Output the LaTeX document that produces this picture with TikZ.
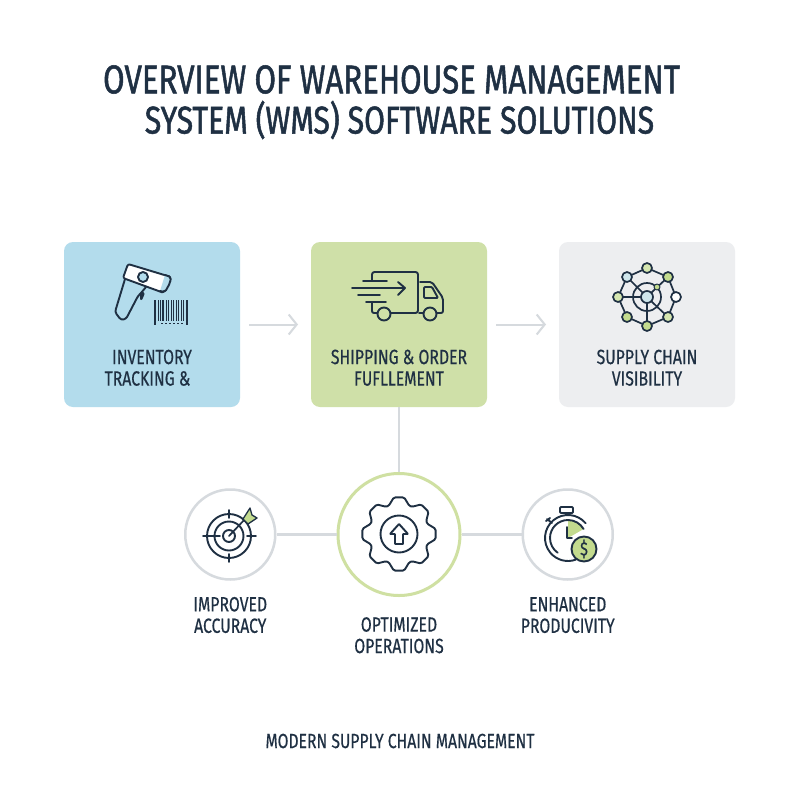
\documentclass[tikz,border=0pt]{standalone}
\usepackage{fontspec}
\setmainfont[FakeStretch=0.77,FakeBold=0.5]{Fira Sans}
\newfontfamily\titlefont[FakeStretch=0.78,FakeBold=1.3]{Fira Sans}
\usetikzlibrary{arrows.meta,positioning,calc}
\definecolor{ink}{HTML}{1F3043}
\definecolor{cardblue}{HTML}{B3DCEC}
\definecolor{cardgreen}{HTML}{CFE0A8}
\definecolor{cardgray}{HTML}{EDEEF0}
\definecolor{linegray}{HTML}{D6DADE}
\definecolor{ringgreen}{HTML}{CFE0A2}
\definecolor{iconblue}{HTML}{CFE6EC}
\definecolor{icongreen}{HTML}{C3DB8E}

\begin{document}
\begin{tikzpicture}[x=1pt, y=-1pt, node distance = 71pt,
                    card/.style = {rounded corners=9pt, minimum width=176pt, minimum height=165pt, inner sep=0pt, outer sep=0pt},
                    ringsmall/.style = {circle, draw=linegray, line width=2.5pt, fill=white, minimum size=90pt, inner sep=0pt, outer sep=1.25pt},
                    ringbig/.style = {circle, draw=ringgreen, line width=3pt, fill=white, minimum size=122pt, inner sep=0pt, outer sep=1.5pt},
                    label/.style = {align=center, text=ink, inner sep=0pt, font=\fontsize{20.5}{21.5}\selectfont},
                    heading/.style = {text=ink, inner sep=0pt, font=\titlefont\fontsize{40}{42}\selectfont},
                    link/.style = {draw=linegray, line width=2.5pt},
                    flow/.style = {draw=linegray, line width=2pt, -{Straight Barb[length=8pt,width=20pt,line width=2pt]}},
                    icon/.style = {draw=ink, line width=1.9pt, line join=round, line cap=round},
                    netnode/.style = {icon, line width=1.7pt}]
\useasboundingbox (0,0) rectangle (800,800);
\fill[white] (0,0) rectangle (800,800);

\node[heading] (title) at (391.5,79.5) {OVERVIEW OF WAREHOUSE MANAGEMENT};
\node[heading, font=\titlefont\fontsize{38.7}{41}\selectfont] (subtitle) at (399.5,120) {SYSTEM (WMS) SOFTWARE SOLUTIONS};

% top row
\node[card, fill=cardblue] (inventory) at (152,324.5) {};
\node[card, fill=cardgreen, right= of inventory] (shipping) {};
\node[card, fill=cardgray, right=72pt of shipping] (visibility) {};
\node[label, above=21pt of inventory.south] (inventorytext) {INVENTORY\\TRACKING \&\hspace*{9pt}};
\node[label, above=21pt of shipping.south] (shippingtext) {SHIPPING \& ORDER\\FUFLLEMENT};
\node[label, above=21pt of visibility.south] (visibilitytext) {SUPPLY CHAIN\\VISIBILITY};

% bottom row
\node[ringbig, below=65pt of shipping] (optimized) {};
\node[ringsmall, left=60pt of optimized] (accuracy) {};
\node[ringsmall, right=60pt of optimized] (productivity) {};
\node[label, below=16pt of accuracy] (accuracytext) {IMPROVED\\ACCURACY};
\node[label, below=20pt of optimized] (optimizedtext) {OPTIMIZED\\OPERATIONS};
\node[label, below=16pt of productivity] (productivitytext) {ENHANCED\\PRODUCIVITY};
\node[text=ink, inner sep=0pt, font=\fontsize{20.4}{22}\selectfont] (footer) at (400,741) {MODERN SUPPLY CHAIN MANAGEMENT};

% connectors
\coordinate[right=9pt of inventory] (a1);
\coordinate[left=13pt of shipping] (a2);
\coordinate[right=9pt of shipping] (b1);
\coordinate[left=13pt of visibility] (b2);
\draw[flow] (a1) -- (a2);
\draw[flow] (b1) -- (b2);
\path[link] (shipping) -- (optimized);
\path[link] (accuracy) -- (optimized);
\path[link] (optimized) -- (productivity);

% scanner
\draw[icon, rounded corners=2.5pt] (125,279) -- (115,312) -- (121,320) -- (126,319) -- (138,296) -- (141,293) -- (146,287);
\draw[icon, rounded corners=1pt] (141,293) -- (144,293) -- (141,300) -- cycle;
\draw[icon, fill=white, rounded corners=2pt] (128,264) -- (171,277) -- (164,293) -- (123,278) -- cycle;
\draw[icon, fill=cardblue, rounded corners=2pt] (165,275) -- (171,277) -- (170,283) -- (165,292) -- (160,291);
\draw[icon, fill=cardblue] (143,277) circle (5);
\foreach \x/\w in {155/2,158/1,160.5/1,163/1.5,166/1,168.5/1.5,171/1,173.5/1.5,176/1,178.5/1,181/1,183.5/1,186.5/2}
    \draw[ink, line width=\w pt] (\x,300) -- (\x,321);
\draw[ink, line width=1.7pt] (155,321) -- (155,325) (187,321) -- (187,325);
\draw[ink, line width=1.5pt, dash pattern=on 1.5pt off 2.5pt] (161,323.5) -- (183,323.5);

% truck
\draw[icon, rounded corners=2.5pt] (372,280) -- (372,272) -- (418,272) -- (418,313) -- (391,313);
\draw[icon, rounded corners=2pt] (372,303) -- (372,313) -- (377,313);
\draw[icon, rounded corners=2pt] (420,282) -- (432,282) -- (443,298) -- (443,313) -- (437,313);
\draw[icon] (423,313) -- (419,313);
\draw[icon, rounded corners=1pt] (424,287) -- (432,287) -- (438,298) -- (424,298) -- cycle;
\draw[icon] (384,314) circle (6.5) (430,314) circle (6.5);
\draw[icon] (363,281) -- (387,281) (352,288) -- (405,288) (398,282) -- (405,288) -- (398,295) (358,295) -- (380,295) (366,302) -- (386,302);

% network
\draw[netnode] (647,268) -- (668,277) -- (676,297) -- (668,317) -- (647,326) -- (627,317) -- (618,297) -- (627,277) -- cycle;
\draw[netnode] (647,297) circle (14);
\draw[netnode] (618,297) -- (642,297) (647,302) -- (647,326) (627,277) -- (643,293) (668,277) -- (651,293) (651,301) -- (668,317);
\foreach \x/\y/\c in {647/268/icongreen!70, 668/277/icongreen, 676/297/white, 668/317/icongreen!70, 647/326/icongreen, 627/317/icongreen, 618/297/icongreen!70, 627/277/iconblue}
    \draw[netnode, fill=\c] (\x,\y) circle (5);
\draw[netnode, fill=iconblue] (647,297) circle (6);
\draw[netnode, line width=1pt, fill=icongreen] (657,287) circle (3);

% target
\draw[icon] (229,536) circle (22) (229,536) circle (14.5);
\draw[icon] (229,536) circle (6);
\draw[icon] (203,536) -- (220,536) (229,510) -- (229,518) (229,554) -- (229,562) (247,536) -- (256,536);
\draw[icon, line width=1.7pt] (229,536) -- (246,518);
\draw[icon, line width=1.3pt, fill=icongreen] (243,519) -- (250,508) -- (252,515) -- (257,518) -- (248,524) -- cycle;

% gear
\draw[icon, fill=white, rounded corners=1.5pt] ($(399,534)+(8:37)$)
    \foreach \a in {0,45,...,315} {
        -- ($(399,534)+(\a+8:37)$) -- ($(399,534)+(\a+20:30)$) -- ($(399,534)+(\a+25:30)$) -- ($(399,534)+(\a+37:37)$)
    } -- cycle;
\draw[icon] (399,534) circle (18.5);
\draw[icon, rounded corners=0.5pt] (399,524) -- (408,534) -- (403,534) -- (403,544) -- (395,544) -- (395,534) -- (390,534) -- cycle;

% stopwatch
\fill[icongreen] (568,538) -- (568,520) arc[start angle=-90, end angle=-30, radius=18] -- cycle;
\draw[icon] (568,538) ++(-40:23) arc[start angle=-40, end angle=-290, radius=23];
\draw[icon] (568,520) arc[start angle=-90, end angle=-30, radius=18];
\draw[icon] (568,520) arc[start angle=-90, end angle=-235, radius=18];
\draw[icon, rounded corners=1pt] (560,507) rectangle (573,513);
\draw[icon] (567,513) -- (567,515) (547,519) -- (552,523) (546,521) -- (550,518);
\draw[icon] (567,527) -- (567,538) -- (572,538);
\node[circle, draw=ink, line width=1.9pt, fill=icongreen, minimum size=25pt, inner sep=0pt, text=ink, font=\fontsize{19}{20}\selectfont] (dollar) at (584,549) {\$};
\end{tikzpicture}
\end{document}
